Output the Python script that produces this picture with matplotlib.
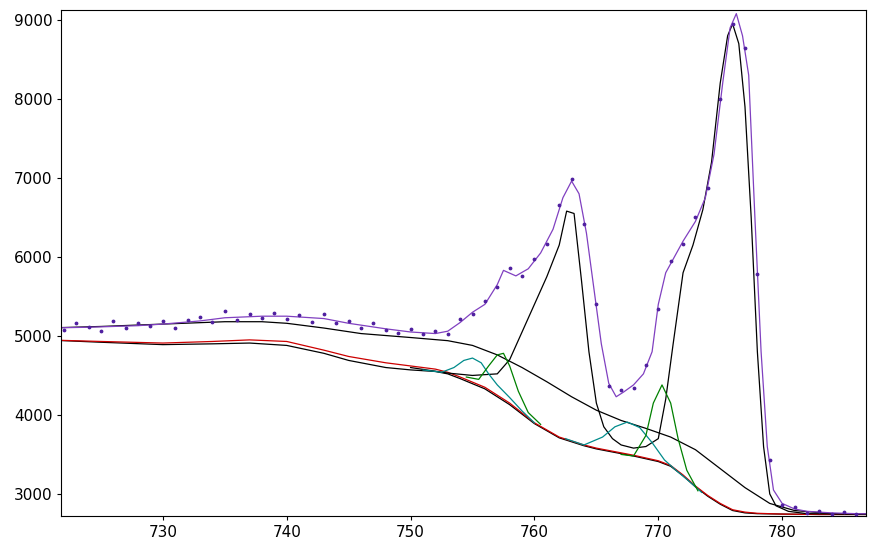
import matplotlib.pyplot as plt
import numpy as np

env_x = [720.5,724,728,730,733,735,738,740,743,745,748,750,752,753,754,755,756,757,757.5,758.5,759.5,760.5,761.5,762.3,763,763.6,764.2,764.8,765.4,766,766.6,767.2,768,768.8,769.5,770,770.6,771.3,772,773,773.8,774.5,775.2,775.8,776.3,776.8,777.3,777.8,778.3,778.8,779.3,780,781,782,784,786,789.8]
env_y = [5100,5110,5130,5150,5190,5230,5250,5250,5220,5160,5090,5050,5030,5060,5170,5300,5400,5650,5830,5760,5850,6050,6350,6750,6960,6800,6300,5600,4900,4400,4230,4290,4380,4520,4800,5400,5800,6000,6200,6450,6750,7300,8200,8900,9080,8800,8300,6500,4800,3600,3050,2880,2810,2780,2760,2750,2745]

pts_x = [722,723,724,725,726,727,728,729,730,731,732,733,734,735,736,737,738,739,740,741,742,743,744,745,746,747,748,749,750,751,752,753,754,755,756,757,758,759,760,761,762,763,764,765,766,767,768,769,770,771,772,773,774,775,776,777,778,779,780,781,782,783,784,785,786]
pts_dy = [-30,60,0,-50,70,-20,30,-10,40,-60,20,50,-30,90,-40,30,-20,40,-30,20,-50,60,-20,30,-40,50,-10,-30,40,-20,30,-40,50,-20,40,-30,60,-50,30,-40,60,30,-50,40,-30,50,-40,30,-60,40,-30,50,-40,60,-20,40,-30,50,-20,30,-20,10,-10,20,-10]

bg_x = [720.5,725,730,734,737,740,743,745,748,750,752,753,754,756,758,760,762,764,765,767,768,770,771,772,773,774,775,776,777,778,780,783,789.8]
bg_red = [4950,4930,4910,4930,4950,4930,4820,4740,4660,4620,4580,4540,4480,4350,4150,3900,3720,3620,3580,3520,3490,3420,3360,3240,3100,2980,2880,2800,2770,2755,2745,2740,2740]
bg_blk = [4950,4920,4890,4900,4910,4880,4780,4690,4600,4570,4550,4520,4460,4330,4130,3890,3710,3610,3570,3510,3480,3410,3350,3230,3090,2970,2870,2790,2760,2750,2745,2740,2740]

up_x = [720.5,725,730,735,738,740,743,746,750,753,755,757,759,761,763,765,767,769,771,773,775,777,779,781,784,789.8]
up_y = [5100,5120,5150,5180,5180,5160,5100,5030,4980,4940,4880,4760,4600,4420,4230,4060,3930,3830,3720,3560,3320,3080,2880,2790,2750,2740]

pk_x = [750,753,755,757,758,759,760,761,762,762.6,763.2,763.8,764.4,765,765.6,766.3,767,768,769,770,770.6,771.2,772,772.8,773.6,774.3,775,775.6,776,776.5,777,777.5,778,778.5,779,779.5,780.5,782,789.8]
pk_y = [4600,4530,4500,4520,4700,5050,5400,5750,6150,6580,6550,5700,4800,4150,3850,3700,3620,3580,3600,3700,4200,4900,5800,6150,6600,7200,8200,8800,8950,8700,7900,6500,4800,3600,3000,2850,2780,2750,2740]

t1_x = [751,752.5,753.5,754.3,755,755.7,756.3,757,758,759,760]
t1_y = [4570,4540,4600,4690,4720,4660,4520,4380,4220,4050,3900]
g1_x = [754.5,755.5,756.3,757,757.5,758,758.7,759.5,760.5]
g1_y = [4480,4450,4620,4760,4780,4620,4300,4030,3880]
t2_x = [762.5,764,765.5,766.5,767.5,768.5,769.5,770.5,771.5,772.5,773.5]
t2_y = [3700,3620,3720,3850,3910,3840,3650,3430,3290,3160,3020]
g2_x = [767,768,769,769.6,770.3,771,771.6,772.3,773.2]
g2_y = [3500,3480,3740,4150,4380,4150,3700,3300,3040]

fig = plt.figure(figsize=(8.76,5.5), dpi=100)
ax = fig.add_axes([0.07, 0.062, 0.919, 0.92])
ax.plot(bg_x, bg_blk, color='black', lw=0.9)
ax.plot(bg_x, bg_red, color='#cc0000', lw=0.9)
ax.plot(up_x, up_y, color='black', lw=0.9)
ax.plot(pk_x, pk_y, color='black', lw=0.9)
ax.plot(t1_x, t1_y, color='#008b8b', lw=0.9)
ax.plot(t2_x, t2_y, color='#008b8b', lw=0.9)
ax.plot(g1_x, g1_y, color='#008000', lw=0.9)
ax.plot(g2_x, g2_y, color='#008000', lw=0.9)
ax.plot(env_x, env_y, color='#8040c0', lw=0.9)
py = np.interp(pts_x, env_x, env_y) + np.array(pts_dy)
ax.scatter(pts_x, py, s=3, color='#5020a0', zorder=5)
ax.set_xlim(721.8, 786.8)
ax.set_ylim(2722, 9127)
ax.set_xticks([730,740,750,760,770,780])
ax.set_yticks([3000,4000,5000,6000,7000,8000,9000])
ax.tick_params(length=3, direction='out', labelsize=11)
fig.savefig('out.png')
